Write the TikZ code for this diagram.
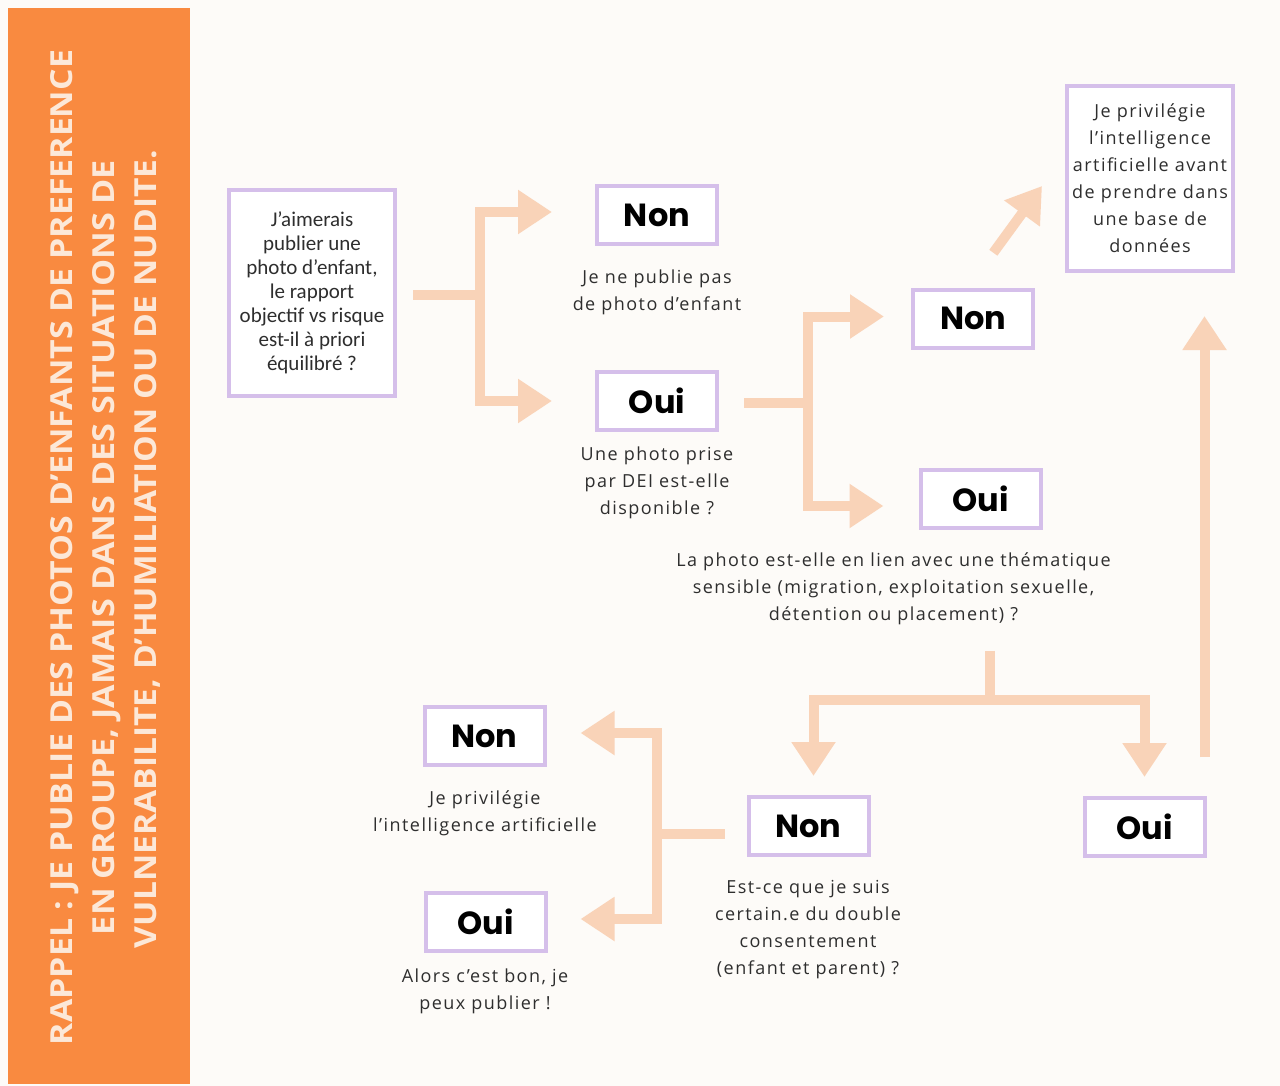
\documentclass[tikz,border=0pt]{standalone}
\usepackage{fontspec}
\usepackage{graphicx}
\usetikzlibrary{arrows.meta}
\setmainfont{Open Sans}
\newfontfamily\trk{Open Sans}[LetterSpace=8]
\newfontfamily\calib{Carlito}
\newfontfamily\pop{Poppins}
\definecolor{peach}{HTML}{F9D3B8}
\definecolor{lav}{HTML}{D5BFEA}
\definecolor{orng}{HTML}{F98A40}
\definecolor{bgc}{HTML}{FDFBF8}
\definecolor{txt}{HTML}{2E2E2E}
\definecolor{side}{HTML}{FCE8D8}
\tikzset{
  box/.style={draw=lav, line width=4pt, fill=white, inner sep=0pt,
    minimum width=120pt, minimum height=58pt, text=black,
    font=\pop\bfseries\fontsize{32}{32}\selectfont},
  bigbox/.style={draw=lav, line width=4pt, fill=white, inner sep=0pt, align=center, text=txt},
  lbl/.style={inner sep=0pt, align=center, text=txt, font=\trk\fontsize{18}{27}\selectfont},
  flow/.style={draw=peach, line width=10pt},
  arr/.style={flow, -{Triangle[width=42pt,length=34pt]}},
  sidetxt/.style={rotate=90, anchor=base, inner sep=0pt, text=side, font=\bfseries}
}
\begin{document}
\begin{tikzpicture}[x=1pt,y=-1pt]
\fill[bgc] (0,0) rectangle (1280,1086);
\fill[orng] (8,8) rectangle (190,1084);
\useasboundingbox (0,0) rectangle (1280,1086);

% sidebar
\node[sidetxt] (s1) at (72,547.5) {\resizebox{995pt}{22pt}{RAPPEL : JE PUBLIE DES PHOTOS D’ENFANTS DE PREFERENCE}};
\node[sidetxt] (s2) at (114,547.5) {\resizebox{775pt}{22pt}{EN GROUPE, JAMAIS DANS DES SITUATIONS DE}};
\node[sidetxt] (s3) at (156,549) {\resizebox{798pt}{22pt}{VULNERABILITE, D’HUMILIATION OU DE NUDITE.}};

% boxes
\node[bigbox, minimum width=166pt, minimum height=205pt,
  font=\calib\fontsize{21}{24}\selectfont] (q1) at (312,293)
  {J’aimerais\\publier une\\photo d’enfant,\\le rapport\\objectif vs risque\\est-il à priori\\équilibré ?};
\node[box] (non1) at (657,215) {Non};
\node[box] (oui1) at (657,401) {Oui};
\node[box] (non2) at (973,318.5) {Non};
\node[box] (oui2) at (980.5,499) {Oui};
\node[bigbox, minimum width=166pt, minimum height=185pt,
  font=\trk\fontsize{18}{27}\selectfont] (ai) at (1150,178.5)
  {Je privilégie\\l’intelligence\\artificielle avant\\de prendre dans\\une base de\\données};
\node[box] (nonl) at (484.5,736) {Non};
\node[box] (ouil) at (485.5,922) {Oui};
\node[box] (nonb) at (808.5,826) {Non};
\node[box] (ouib) at (1144.5,827) {Oui};

% labels
\node[lbl] (t1) at (657,292) {Je ne publie pas\\de photo d’enfant};
\node[lbl] (t2) at (657,482.5) {Une photo prise\\par DEI est-elle\\disponible ?};
\node[lbl] (t4) at (893.5,588.5) {La photo est-elle en lien avec une thématique\\sensible (migration, exploitation sexuelle,\\détention ou placement) ?};
\node[lbl] (t5) at (485,813) {Je privilégie\\l’intelligence artificielle};
\node[lbl] (t6) at (485,991) {Alors c’est bon, je\\peux publier !};
\node[lbl] (t7) at (808,930) {Est-ce que je suis\\certain.e du double\\consentement\\(enfant et parent) ?};

% junctions
\coordinate (j1) at (480,295);
\coordinate (j2) at (808,403);
\coordinate (j3) at (990,700);
\coordinate (j4) at (657,834);

% connectors
\draw[flow, shorten <=16pt] (q1.east |- j1) -- (j1);
\draw[arr, shorten >=43pt] (j1) |- ([yshift=3pt]non1.west);
\draw[arr, shorten >=43pt] (j1) |- (oui1.west);

\draw[flow, shorten <=25pt] (oui1.east |- j2) -- (j2);
\draw[arr, shorten >=27pt] (j2) |- ([yshift=2pt]non2.west);
\draw[arr, shorten >=35pt] (j2) |- ([yshift=-7pt]oui2.west);

\draw[arr, shorten <=43pt] ([xshift=-5pt]non2.north) -- ([xshift=-23pt,yshift=-7.5pt]ai.west);

\draw[flow, shorten <=26pt] (t4.south -| j3) -- (j3);
\draw[arr, shorten >=19pt] (j3) -| ([xshift=5pt]nonb.north);
\draw[arr, shorten >=19pt] (j3) -| (ouib.north);

\draw[arr, shorten <=39pt, shorten >=43pt] ([xshift=-2pt]ouib.north east) -- ([xshift=-2pt]ouib.north east |- ai.south);

\draw[flow, shorten <=22pt] ([yshift=-8pt]nonb.west) -- (j4);
\draw[arr, shorten >=34pt] (j4) |- ([yshift=3pt]nonl.east);
\draw[arr, shorten >=33pt] (j4) |- ([yshift=3pt]ouil.east);
\end{tikzpicture}
\end{document}
